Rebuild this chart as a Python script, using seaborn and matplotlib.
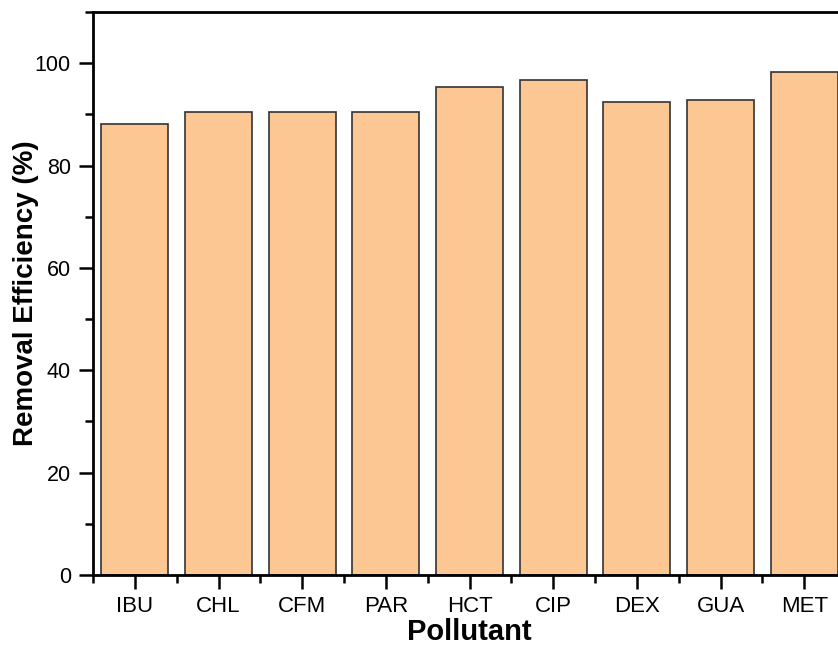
import matplotlib
matplotlib.use("Agg")
import matplotlib.pyplot as plt
from matplotlib.ticker import MultipleLocator, FixedLocator
import seaborn as sns
import pandas as pd

pollutants = ["IBU", "CHL", "CFM", "PAR", "HCT", "CIP", "DEX", "GUA", "MET"]
removal = [88.2, 90.4, 90.5, 90.4, 95.3, 96.7, 92.4, 92.8, 98.2]

df = pd.DataFrame({"Pollutant": pollutants, "Removal": removal})

sns.set_style("ticks")
plt.rcParams["font.family"] = ["Liberation Sans", "DejaVu Sans"]
plt.rcParams["text.color"] = "black"
plt.rcParams["axes.labelcolor"] = "black"

fig = plt.figure(figsize=(8.38, 6.47), dpi=100)
ax = fig.add_axes([0.111, 0.1113, 0.8986, 0.870])

sns.barplot(data=df, x="Pollutant", y="Removal", ax=ax, color="#FDC793",
            saturation=1, width=0.8, edgecolor="#333333", linewidth=1.2)

ax.set_xlim(-0.5, len(pollutants) - 0.5)
ax.set_ylim(0, 110)
ax.yaxis.set_major_locator(MultipleLocator(20))
ax.yaxis.set_minor_locator(MultipleLocator(10))
ax.xaxis.set_minor_locator(FixedLocator([i + 0.5 for i in range(-1, len(pollutants))]))

for side in ["left", "bottom", "top", "right"]:
    ax.spines[side].set_linewidth(2)
    ax.spines[side].set_color("black")

ax.tick_params(which="major", direction="out", length=10, width=1.8, colors="black")
ax.tick_params(which="minor", direction="out", length=6, width=1.8, colors="black")
ax.tick_params(axis="x", which="major", labelsize=16, pad=5)
ax.tick_params(axis="y", which="major", labelsize=15.5, pad=6)

ax.set_xlabel("Pollutant", fontsize=21, fontweight="bold", va="baseline", color="black")
ax.set_ylabel("Removal Efficiency (%)", fontsize=20, fontweight="bold", color="black")
ax.xaxis.set_label_coords(0.5, -0.1155)
ax.yaxis.set_label_coords(-0.072, 0.5)

fig.savefig("out.png", dpi=100)
